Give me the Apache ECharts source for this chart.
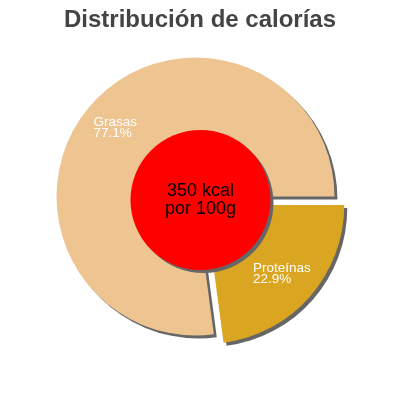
<!DOCTYPE html>
<html>
<head>
<meta charset="utf-8">
<script src="https://cdn.jsdelivr.net/npm/echarts@6/dist/echarts.min.js"></script>
<style>
html,body{margin:0;padding:0;background:#fff;}
#chart{width:400px;height:400px;}
</style>
</head>
<body>
<div id="chart"></div>
<script>
const titleText = 'Distribución de calorías';
const categories = ['Grasas', 'Proteínas'];
const percents = [77.1, 22.9];
const sliceColors = ['#EEC591', '#DAA520'];
const selectedFlags = [false, true];
const centerLines = ['350 kcal', 'por 100g'];

const chart = echarts.init(document.getElementById('chart'), null, {renderer: 'canvas'});

const labelShift = [[-47.5, -32.4], [-6.8, 9.6]];

const option = {
  animation: false,
  backgroundColor: '#ffffff',
  title: {
    text: titleText,
    left: 'center',
    top: 3,
    textStyle: {
      fontFamily: 'Liberation Sans',
      fontSize: 24,
      fontWeight: 'bold',
      color: '#444444'
    }
  },
  series: [
    {
      type: 'pie',
      center: [195.5, 196.5],
      radius: [0, 139],
      startAngle: 0,
      clockwise: false,
      selectedMode: 'single',
      selectedOffset: 13,
      avoidLabelOverlap: false,
      silent: true,
      itemStyle: {
        borderWidth: 0,
        shadowColor: '#666666',
        shadowBlur: 0,
        shadowOffsetX: 3,
        shadowOffsetY: 3
      },
      label: {
        show: true,
        position: 'inside',
        formatter: '{b}\n{c}%',
        color: '#ffffff',
        fontFamily: 'Liberation Sans',
        fontSize: 13.5,
        lineHeight: 11.5,
        align: 'left'
      },
      labelLine: {show: false},
      labelLayout: function (p) {
        const s = labelShift[p.dataIndex];
        return {align: 'left', verticalAlign: 'top', dx: s[0], dy: s[1]};
      },
      data: categories.map((c, i) => ({
        name: c,
        value: percents[i],
        selected: selectedFlags[i],
        itemStyle: {color: sliceColors[i]}
      }))
    },
    {
      type: 'pie',
      center: [200.5, 200],
      radius: [0, 70],
      silent: true,
      z: 5,
      itemStyle: {
        color: '#ff0000',
        borderWidth: 0,
        shadowColor: '#666666',
        shadowBlur: 0,
        shadowOffsetX: 3,
        shadowOffsetY: 3
      },
      label: {
        show: true,
        position: 'center',
        formatter: centerLines.join('\n'),
        color: '#000000',
        fontFamily: 'Liberation Sans',
        fontSize: 18,
        lineHeight: 18
      },
      labelLine: {show: false},
      data: [{name: 'kcal', value: 1}]
    }
  ]
};
chart.setOption(option);
</script>
</body>
</html>
